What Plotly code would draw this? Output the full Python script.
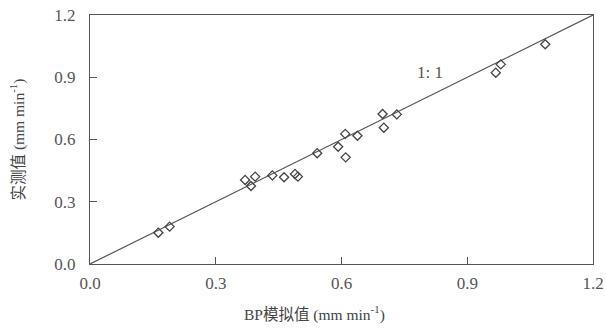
import plotly.graph_objects as go

# Data
bp_sim = [0.163, 0.190, 0.370, 0.384, 0.394, 0.435, 0.463, 0.489, 0.496, 0.542,
          0.592, 0.610, 0.609, 0.638, 0.698, 0.701, 0.732, 0.968, 0.980, 1.086]
measured = [0.151, 0.180, 0.405, 0.376, 0.421, 0.427, 0.418, 0.434, 0.421, 0.534,
            0.565, 0.514, 0.627, 0.618, 0.723, 0.657, 0.721, 0.922, 0.962, 1.059]
line_x = [0.0, 1.2]
line_y = [0.0, 1.2]
tick_vals = [0.0, 0.3, 0.6, 0.9, 1.2]
tick_text = ["0.0", "0.3", "0.6", "0.9", "1.2"]

FONT = "Liberation Serif, Times New Roman, Noto Sans CJK SC, serif"
GRAY = "#555555"

fig = go.Figure()
fig.add_trace(go.Scatter(x=line_x, y=line_y, mode="lines",
                         line=dict(color="#555555", width=1.2),
                         showlegend=False, hoverinfo="skip"))
fig.add_trace(go.Scatter(x=bp_sim, y=measured, mode="markers",
                         marker=dict(symbol="diamond-open", size=7,
                                     color="#444444", line=dict(width=1.3)),
                         showlegend=False))

axis_common = dict(range=[0, 1.2], tickvals=tick_vals, ticktext=tick_text,
                   ticks="inside", ticklen=7, tickwidth=1.2, tickcolor="#555555",
                   showline=True, linecolor="#555555", linewidth=1.2,
                   mirror=True, showgrid=False, zeroline=False, automargin=False,
                   tickfont=dict(family=FONT, size=17, color=GRAY))

fig.update_xaxes(ticklabelstandoff=3, **axis_common)
fig.update_yaxes(ticklabelstandoff=10, **axis_common)

fig.add_annotation(x=0.81, y=0.925, xref="x", yref="y", text="1: 1",
                   showarrow=False, font=dict(family=FONT, size=17, color=GRAY))

# Axis titles as annotations (placed relative to the plot area)
fig.add_annotation(x=(314 - 90) / 503, y=-(313 - 264) / 249, xref="paper", yref="paper",
                   text="BP模拟值 (mm min<sup>-1</sup>)", showarrow=False,
                   font=dict(family=FONT, size=15.5, color="#444444"),
                   xanchor="center", yanchor="middle")
fig.add_annotation(x=-(90 - 18) / 503, y=0.5, xref="paper", yref="paper",
                   text="实测值 (mm min<sup>-1</sup>)", showarrow=False, textangle=-90,
                   font=dict(family=FONT, size=15.5, color="#444444"),
                   xanchor="center", yanchor="middle")

fig.update_layout(width=606, height=328,
                  margin=dict(l=90, r=13, t=15, b=64),
                  plot_bgcolor="white", paper_bgcolor="white",
                  showlegend=False)

# remove the browser's default 8px body margin so the figure fills the window
fig.write_html("out.html", config={"displayModeBar": False},
               post_script="document.body.style.margin='0';")
